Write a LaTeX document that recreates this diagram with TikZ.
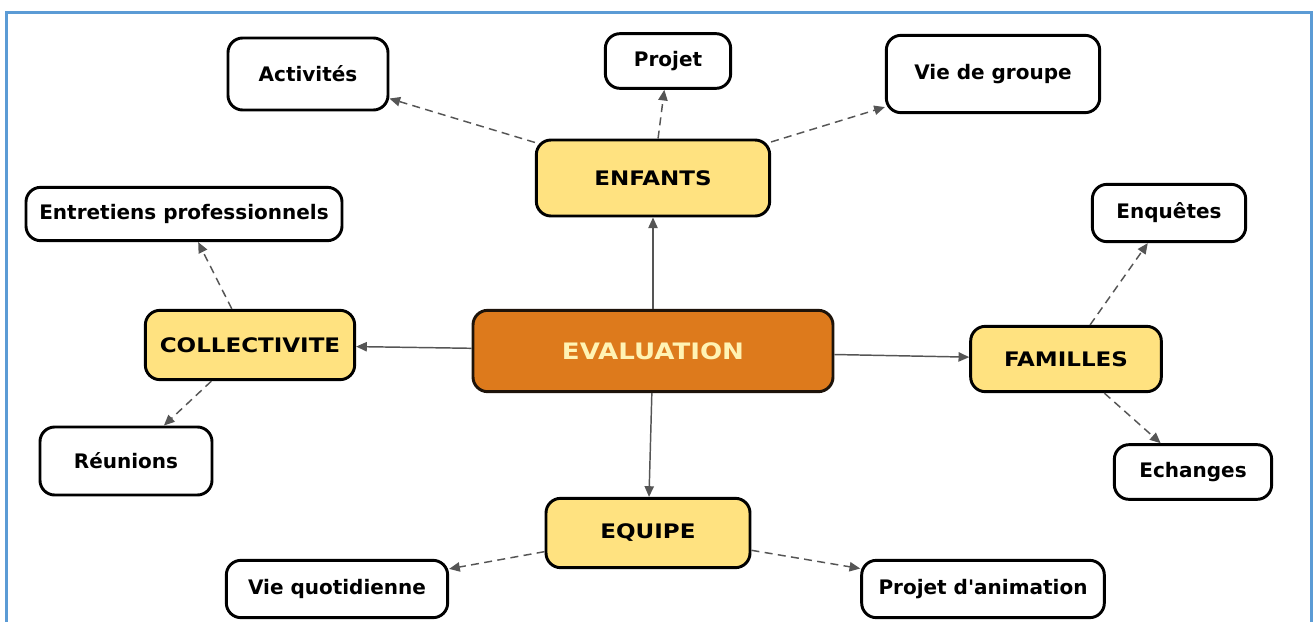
\documentclass[tikz,border=0pt]{standalone}
\usepackage{fontspec}
\setmainfont{DejaVu Sans}[Ligatures=TeXOff]
\newfontfamily\capsfont{DejaVu Sans}[FakeStretch=1.15]
\usepackage{tikz}
\usetikzlibrary{arrows.meta,positioning}
\definecolor{framecol}{RGB}{91,155,213}
\definecolor{themefill}{RGB}{255,226,128}
\definecolor{centrefill}{RGB}{221,122,28}
\definecolor{centretext}{RGB}{255,243,180}
\definecolor{linkcol}{RGB}{85,85,85}
\tikzset{
        leaf/.style = {draw, rectangle, rounded corners=11pt,
            line width=2.2pt, fill=white,
            font=\bfseries\fontsize{15}{17}\selectfont},
        theme/.style = {leaf, fill=themefill,
            font=\capsfont\bfseries\fontsize{15}{17}\selectfont},
        centre/.style = {leaf, fill=centrefill, draw=black!85!brown,
            text=centretext,
            font=\capsfont\bfseries\fontsize{17}{19}\selectfont},
        link/.style = {draw=linkcol, line width=1.1pt,
            -{Triangle[length=8pt,width=7pt]}},
        sublink/.style = {link, dash pattern=on 6pt off 4pt},
    }
\begin{document}
\begin{tikzpicture}[x=0.75pt,y=0.75pt,yscale=-1,xscale=1]
    \useasboundingbox (0,0) rectangle (1313,621);
    
    % Frame
    \draw [framecol, line width=2.25pt] (6,12) rectangle (1311,650);
    
    % Centre and themes
    \node [centre, minimum width=270pt, minimum height=61pt] (eval) at (653,351) {EVALUATION};
    \node [theme, minimum width=175pt, minimum height=57pt] (enf) at (653,178) {ENFANTS};
    \node [theme, minimum width=157pt, minimum height=52pt] (coll) at (250,345) {COLLECTIVITE};
    \node [theme, minimum width=143pt, minimum height=49pt] (fam) at (1066,359) {FAMILLES};
    \node [theme, minimum width=153pt, minimum height=52pt] (equ) at (648,533) {EQUIPE};
    
    % Leaves
    \node [leaf, minimum width=120pt, minimum height=54pt] (act) at (308,74) {Activités};
    \node [leaf, minimum width=94pt, minimum height=41pt] (proj) at (668,61) {Projet};
    \node [leaf, minimum width=160pt, minimum height=58pt] (vdg) at (993,74) {Vie de groupe};
    \node [leaf, minimum width=237pt, minimum height=40pt] (entr) at (184,214) {Entretiens professionnels};
    \node [leaf, minimum width=129pt, minimum height=51pt] (reun) at (126,461) {Réunions};
    \node [leaf, minimum width=115pt, minimum height=43pt] (enq) at (1169,213) {Enquêtes};
    \node [leaf, minimum width=118pt, minimum height=41pt] (ech) at (1193,472) {Echanges};
    \node [leaf, minimum width=166pt, minimum height=43pt] (vq) at (337,589) {Vie quotidienne};
    \node [leaf, minimum width=182pt, minimum height=43pt] (pda) at (983,589) {Projet d'animation};
    
    % Solid links
    \draw [link] (eval) -- (enf);
    \draw [link] (eval) -- (coll);
    \draw [link] (eval) -- (fam);
    \draw [link] (eval) -- (equ);
    
    % Dashed links
    \draw [sublink] (enf) -- (act);
    \draw [sublink] (enf) -- (proj);
    \draw [sublink] (enf) -- (vdg);
    \draw [sublink] (coll) -- (entr);
    \draw [sublink] (coll) -- (reun);
    \draw [sublink] (fam) -- (enq);
    \draw [sublink] (fam) -- (ech);
    \draw [sublink] (equ) -- (vq);
    \draw [sublink] (equ) -- (pda);
    
\end{tikzpicture}
\end{document}
